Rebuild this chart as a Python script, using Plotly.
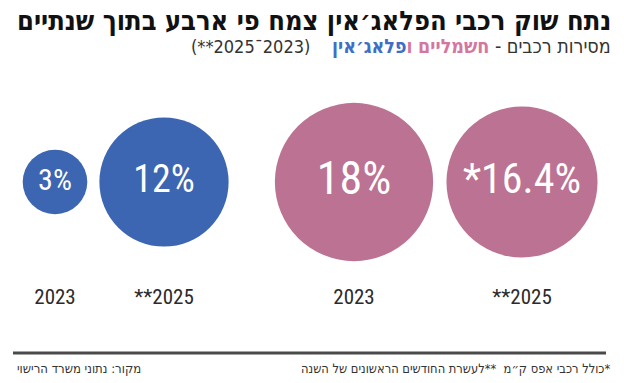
import plotly.graph_objects as go

# ---------------- data ----------------
years_plugin = ["2023", "**2025"]
share_plugin = [3, 12]
notes_plugin = ["", ""]

years_electric = ["2023", "**2025"]
share_electric = [18, 16.4]
notes_electric = ["", "*"]

title_text = "נתח שוק רכבי הפלאג׳אין צמח פי ארבע בתוך שנתיים"
sub_lead = "מסירות רכבים - "
sub_electric = "חשמליים"
sub_and = "ו"
sub_plugin = "פלאג׳אין"
period_start, period_end = "2023", "**2025"
footnote_text = "*כולל רכבי אפס ק״מ  **לעשרת החודשים הראשונים של השנה"
source_text = "מקור: נתוני משרד הרישוי"

# ---------------- style ----------------
W, H = 624, 383
BLUE = "#3c66b1"
PINK = "#bc7292"
PINK_TXT = "#d4779f"
BLUE_TXT = "#3f6fc4"
DARK = "#2b2b2b"
HEB_FONT = '"Liberation Sans Narrow", "DejaVu Sans Condensed", "Liberation Sans", sans-serif'
NUM_FONT = '"Roboto Condensed", "Liberation Sans Narrow", "DejaVu Sans Condensed", Roboto, sans-serif'
R_PX = 18.65                      # circle radius in px per sqrt(percent)
SIZEREF = 1 / (2 * R_PX ** 2)


def px_x(p):
    return p / W


def px_y(p):
    return (H - p) / H


def labels(vals, notes):
    return [f"{n}{v:g}%" for v, n in zip(vals, notes)]


def rtl_in_ltr(s):
    """Move leading neutral marks to the end so an LTR text box shows the
    Hebrew line in correct right-to-left order."""
    i = 0
    while i < len(s) and s[i] in "*":
        i += 1
    return s[i:] + s[:i]


fig = go.Figure()
fig.add_trace(go.Scatter(
    x=years_plugin, y=[0] * len(years_plugin), xaxis="x", yaxis="y",
    mode="markers+text",
    marker=dict(size=share_plugin, sizemode="area", sizeref=SIZEREF,
                color=BLUE, line=dict(width=0), opacity=1),
    text=labels(share_plugin, notes_plugin), textposition="middle center",
    textfont=dict(color="white", size=[30, 38], family=NUM_FONT),
    hoverinfo="skip", cliponaxis=False, showlegend=False,
))
fig.add_trace(go.Scatter(
    x=years_electric, y=[0] * len(years_electric), xaxis="x2", yaxis="y",
    mode="markers+text",
    marker=dict(size=share_electric, sizemode="area", sizeref=SIZEREF,
                color=PINK, line=dict(width=0), opacity=1),
    text=labels(share_electric, notes_electric), textposition="middle center",
    textfont=dict(color="white", size=[46, 42], family=NUM_FONT),
    hoverinfo="skip", cliponaxis=False, showlegend=False,
))

axis_common = dict(type="category", range=[-0.5, 1.5], showgrid=False,
                   zeroline=False, showline=False, ticks="",
                   tickfont=dict(size=21, color=DARK, family=NUM_FONT),
                   fixedrange=True)

subtitle_heb = (sub_lead
                + f"<b><span style='color:{PINK_TXT}'>{sub_electric}</span></b> "
                + f"<b><span style='color:{PINK_TXT}'>{sub_and}</span></b>"
                + f"<b><span style='color:{BLUE_TXT}'>{sub_plugin}</span></b>")
subtitle_period = f"({period_end}ˉ{period_start})"

fig.update_layout(
    width=W, height=H, autosize=False,
    margin=dict(l=0, r=0, t=0, b=0, pad=0),
    paper_bgcolor="white", plot_bgcolor="white",
    xaxis=dict(domain=[px_x(0.5), px_x(218.5)], anchor="y", **axis_common),
    xaxis2=dict(domain=[px_x(270), px_x(606)], anchor="y", **axis_common),
    yaxis=dict(domain=[px_y(282), px_y(82)], range=[-1, 1], visible=False,
               fixedrange=True),
    shapes=[dict(type="line", xref="paper", yref="paper",
                 x0=px_x(13), x1=px_x(606), y0=px_y(353), y1=px_y(353),
                 line=dict(color="#4a4a4a", width=3))],
    annotations=[
        dict(text="<b>" + title_text + "</b>", xref="paper", yref="paper",
             x=px_x(613), y=px_y(20), xanchor="right", yanchor="middle",
             showarrow=False, font=dict(size=27, color="#111", family=HEB_FONT)),
        dict(text=subtitle_heb, xref="paper", yref="paper",
             x=px_x(613), y=px_y(46), xanchor="right", yanchor="middle",
             showarrow=False, font=dict(size=19.5, color="#333", family=HEB_FONT)),
        dict(text=subtitle_period, xref="paper", yref="paper",
             x=px_x(312), y=px_y(46), xanchor="right", yanchor="middle",
             showarrow=False, font=dict(size=18, color="#333", family=HEB_FONT)),
        dict(text=rtl_in_ltr(footnote_text), xref="paper", yref="paper",
             x=px_x(612), y=px_y(368), xanchor="right", yanchor="middle",
             showarrow=False, font=dict(size=12.8, color="#333", family=HEB_FONT)),
        dict(text=source_text, xref="paper", yref="paper",
             x=px_x(15), y=px_y(368), xanchor="left", yanchor="middle",
             showarrow=False, font=dict(size=13, color="#333", family=HEB_FONT)),
    ],
)

fig.write_html("out.html", config={"displayModeBar": False, "staticPlot": True},
               post_script="document.body.style.margin='0px';")
